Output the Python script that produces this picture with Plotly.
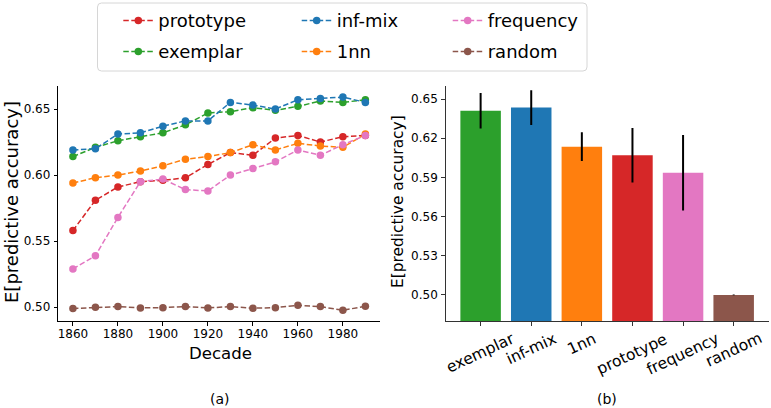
import plotly.graph_objects as go

# ---------------- data ----------------
decades = [1860, 1870, 1880, 1890, 1900, 1910, 1920, 1930, 1940, 1950, 1960, 1970, 1980, 1990]
prototype = [0.558, 0.581, 0.591, 0.595, 0.596, 0.598, 0.608, 0.617, 0.615, 0.628, 0.630, 0.625, 0.629, 0.630]
exemplar = [0.614, 0.621, 0.626, 0.629, 0.632, 0.638, 0.647, 0.648, 0.651, 0.649, 0.652, 0.656, 0.655, 0.657]
inf_mix = [0.619, 0.620, 0.631, 0.632, 0.637, 0.641, 0.641, 0.655, 0.653, 0.650, 0.657, 0.658, 0.659, 0.655]
nn1 = [0.594, 0.598, 0.600, 0.603, 0.607, 0.612, 0.614, 0.617, 0.623, 0.619, 0.624, 0.622, 0.621, 0.631]
frequency = [0.529, 0.539, 0.568, 0.595, 0.597, 0.589, 0.588, 0.600, 0.605, 0.610, 0.619, 0.615, 0.623, 0.630]
random_ = [0.499, 0.500, 0.5005, 0.4995, 0.4997, 0.5005, 0.4995, 0.5005, 0.4993, 0.4997, 0.5015, 0.5005, 0.4977, 0.5008]

bar_models = ["exemplar", "inf-mix", "1nn", "prototype", "frequency", "random"]
bar_means = [0.641, 0.6435, 0.6135, 0.607, 0.5935, 0.500]
bar_errs = [0.0136, 0.0133, 0.011, 0.0209, 0.0289, 0.0003]

left_yticks = [0.50, 0.55, 0.60, 0.65]
left_xticks = [1860, 1880, 1900, 1920, 1940, 1960, 1980]
right_yticks = [0.50, 0.53, 0.56, 0.59, 0.62, 0.65]

colors = {
    "prototype": "#d62728", "exemplar": "#2ca02c", "inf-mix": "#1f77b4",
    "1nn": "#ff7f0e", "frequency": "#e377c2", "random": "#8c564b",
}

W, H = 771, 408
FONT = "DejaVu Sans"


def px(x):
    return x / W


def py(y):
    return 1 - y / H


fig = go.Figure()

# legend placement: (name, series, legend id, text-start px, row center px)
series = [
    ("prototype", prototype, "legend", 158.3, 20.7),
    ("exemplar", exemplar, "legend2", 158.3, 51.7),
    ("inf-mix", inf_mix, "legend3", 336.7, 20.7),
    ("1nn", nn1, "legend4", 336.7, 51.7),
    ("frequency", frequency, "legend5", 487.7, 20.7),
    ("random", random_, "legend6", 487.7, 51.7),
]

legend_layouts = {}
for name, vals, lg, tx, ty in series:
    fig.add_trace(go.Scatter(
        x=decades, y=vals, name=name, mode="lines+markers",
        line=dict(color=colors[name], width=1.5, dash="5.5px,2.5px"),
        marker=dict(color=colors[name], size=7.5),
        xaxis="x", yaxis="y", legend=lg, showlegend=True,
    ))
    legend_layouts[lg] = dict(
        x=px(tx - 40), y=py(ty), xanchor="left", yanchor="middle",
        bgcolor="rgba(0,0,0,0)", borderwidth=0,
        font=dict(family=FONT, size=18, color="black"),
    )

fig.add_trace(go.Bar(
    x=bar_models, y=bar_means, width=0.8,
    marker=dict(color=[colors[m] for m in bar_models], line=dict(width=0)),
    error_y=dict(type="data", array=bar_errs, color="black", thickness=2, width=0),
    xaxis="x2", yaxis="y2", showlegend=False,
))

ydom = [py(321), py(86)]
axis_common = dict(showgrid=False, zeroline=False, showline=True, linewidth=1,
                   ticks="outside", ticklen=3.5, tickwidth=1,
                   tickfont=dict(family=FONT, size=12, color="black"))

layout = dict(
    width=W, height=H, margin=dict(l=0, r=0, t=0, b=0),
    paper_bgcolor="white", plot_bgcolor="white",
    font=dict(family=FONT, color="black"),
    xaxis=dict(domain=[px(58.3), px(380)], range=[1853.5, 1996.5],
               tickvals=left_xticks, linecolor="black", tickcolor="black",
               ticklabelstandoff=-2, anchor="y", **axis_common),
    yaxis=dict(domain=ydom, range=[0.4896, 0.6674], tickvals=left_yticks,
               tickformat=".2f", linecolor="black", tickcolor="black",
               ticklabelstandoff=1, anchor="x", **axis_common),
    xaxis2=dict(domain=[px(445.7), px(768.6)], range=[-0.69, 5.69],
                type="category", showticklabels=False, linecolor="#333",
                tickcolor="#333", anchor="y2", **axis_common),
    yaxis2=dict(domain=ydom, range=[0.48, 0.66], tickvals=right_yticks,
                tickformat=".2f", linecolor="#333", tickcolor="#333",
                ticklabelstandoff=1, anchor="x2", **axis_common),
)
layout.update(legend_layouts)
fig.update_layout(**layout)

# rotated category labels of the bar chart
for m in bar_models:
    fig.add_annotation(x=m, xref="x2", y=py(327), yref="paper", text=m,
                       textangle=-25, showarrow=False, xanchor="center", yanchor="top",
                       font=dict(family=FONT, size=15.5, color="black"))


def label(x, y, text, size, angle=0):
    fig.add_annotation(x=px(x), y=py(y), xref="paper", yref="paper", text=text,
                       textangle=angle, showarrow=False,
                       xanchor="center", yanchor="middle",
                       font=dict(family=FONT, size=size, color="black"))


# axis titles and captions
label(11.5, 202.5, "E[predictive accuracy]", 18, -90)
label(397.5, 201.5, "E[predictive accuracy]", 15.4, -90)
label(220, 353, "Decade", 16.6)
label(220, 399, "(a)", 14)
label(606.7, 399, "(b)", 14)

# legend frame (rounded rectangle)
x0, x1, y0, y1, r = 97.5, 587.0, 3.0, 71.0, 4.0
path = (f"M {px(x0 + r)} {py(y0)} L {px(x1 - r)} {py(y0)} "
        f"Q {px(x1)} {py(y0)} {px(x1)} {py(y0 + r)} L {px(x1)} {py(y1 - r)} "
        f"Q {px(x1)} {py(y1)} {px(x1 - r)} {py(y1)} L {px(x0 + r)} {py(y1)} "
        f"Q {px(x0)} {py(y1)} {px(x0)} {py(y1 - r)} L {px(x0)} {py(y0 + r)} "
        f"Q {px(x0)} {py(y0)} {px(x0 + r)} {py(y0)} Z")
fig.add_shape(type="path", path=path, xref="paper", yref="paper",
              line=dict(color="#d6d6d6", width=1), layer="below")

fig.write_html("out.html", config={"displayModeBar": False},
               post_script="document.body.style.margin='0px';")
